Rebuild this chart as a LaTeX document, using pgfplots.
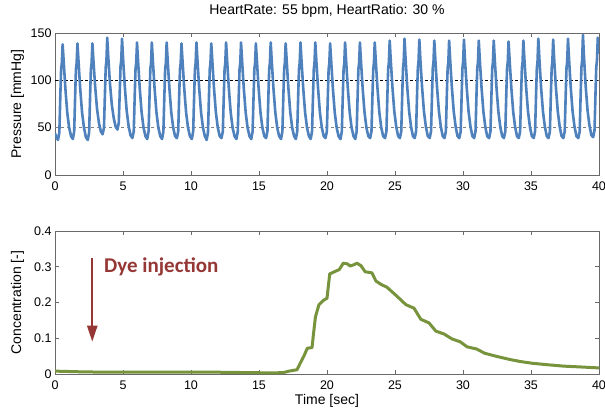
\documentclass[border=0pt]{standalone}
\usepackage{pgfplots}
\pgfplotsset{compat=1.18}
\usepackage{fontspec}
\setmainfont{Liberation Sans}
\newfontfamily\calibri{Carlito}
\usetikzlibrary{arrows.meta}
\definecolor{sigblue}{RGB}{79,129,189}
\definecolor{siggreen}{RGB}{119,147,60}
\definecolor{dyered}{RGB}{149,55,53}
\definecolor{framegray}{RGB}{105,105,105}

\pgfplotsset{
  panel/.style={
    scale only axis, width=544pt,
    xmin=0, xmax=40, xtick={0,5,...,40},
    axis line style={framegray, line width=0.8pt},
    tick style={framegray, line width=0.8pt},
    major tick length=4pt,
    xtick pos=both, ytick pos=both, tick align=inside,
    ticklabel style={font=\fontsize{12.5}{14}\selectfont},
    xticklabel style={yshift=-3pt},
    label style={font=\fontsize{14}{16}\selectfont},
    ylabel style={at={(axis description cs:-0.069,0.5)}, anchor=center},
    /pgf/number format/assume math mode=true,
  }
}

\begin{document}
\begin{tikzpicture}
\path[use as bounding box] (0,0) rectangle (605pt,408pt);

% pressure
\begin{axis}[panel, at={(55pt,233pt)}, anchor=south west, height=142pt,
  ymin=0, ymax=150, ytick={0,50,100,150},
  ylabel={Pressure [mmHg]},
  title={HeartRate: 55 bpm, HeartRatio: 30 \%},
  title style={font=\fontsize{14}{16}\selectfont, at={(axis description cs:0.5,1)}, anchor=base, yshift=12.5pt}]
\addplot[black, line width=0.7pt, dash pattern=on 2.5pt off 2.5pt] coordinates {(0,100) (40,100)};
\addplot[gray, line width=1.2pt, dash pattern=on 3pt off 3pt] coordinates {(0,50) (40,50)};
\addplot[sigblue, line width=2.6pt, line join=round] coordinates {
(0,44) (0.10,40)
(0.22,37) (0.32,45) (0.40,88) (0.45,112) (0.50,118) (0.56,138) (0.64,120) (0.76,92) (0.90,66) (1.04,50) (1.18,41)
(1.31,38) (1.41,46) (1.49,88) (1.54,112) (1.59,118) (1.65,139) (1.73,120) (1.85,92) (1.99,66) (2.13,50) (2.27,40)
(2.41,37) (2.51,45) (2.59,88) (2.64,112) (2.69,118) (2.75,139) (2.83,120) (2.95,94) (3.09,70) (3.23,55) (3.37,46)
(3.50,43) (3.60,50) (3.68,90) (3.73,114) (3.78,120) (3.84,145) (3.92,124) (4.04,97) (4.18,74) (4.32,60) (4.46,51)
(4.59,48) (4.69,55) (4.77,92) (4.82,115) (4.87,121) (4.93,144) (5.01,122) (5.13,94) (5.27,68) (5.41,52) (5.55,42)
(5.69,39) (5.79,46) (5.87,88) (5.92,112) (5.97,118) (6.03,140) (6.11,120) (6.23,92) (6.37,66) (6.51,50) (6.65,41)
(6.78,38) (6.88,46) (6.96,88) (7.01,112) (7.06,118) (7.12,140) (7.20,120) (7.32,92) (7.46,66) (7.60,50) (7.74,41)
(7.87,38) (7.97,46) (8.05,88) (8.10,112) (8.15,118) (8.21,140) (8.29,120) (8.41,92) (8.55,66) (8.69,50) (8.83,41)
(8.96,39) (9.06,46) (9.14,88) (9.19,112) (9.24,118) (9.30,139) (9.38,120) (9.50,92) (9.64,66) (9.78,50) (9.92,41)
(10.06,38) (10.16,46) (10.24,88) (10.29,112) (10.34,118) (10.40,140) (10.48,120) (10.60,92) (10.74,66) (10.88,50) (11.02,41)
(11.15,37) (11.25,45) (11.33,88) (11.38,112) (11.43,118) (11.49,139) (11.57,120) (11.69,92) (11.83,66) (11.97,50) (12.11,41)
(12.24,39) (12.34,46) (12.42,88) (12.47,112) (12.52,118) (12.58,140) (12.66,120) (12.78,92) (12.92,66) (13.06,50) (13.20,41)
(13.34,38) (13.44,46) (13.52,88) (13.57,112) (13.62,118) (13.68,140) (13.76,120) (13.88,92) (14.02,66) (14.16,50) (14.30,41)
(14.43,38) (14.53,46) (14.61,88) (14.66,112) (14.71,118) (14.77,139) (14.85,120) (14.97,92) (15.11,66) (15.25,50) (15.39,41)
(15.52,39) (15.62,46) (15.70,88) (15.75,112) (15.80,118) (15.86,140) (15.94,120) (16.06,92) (16.20,66) (16.34,50) (16.48,41)
(16.62,38) (16.72,46) (16.80,88) (16.85,112) (16.90,118) (16.96,139) (17.04,120) (17.16,92) (17.30,66) (17.44,50) (17.58,41)
(17.71,38) (17.81,46) (17.89,88) (17.94,112) (17.99,118) (18.05,140) (18.13,120) (18.25,92) (18.39,66) (18.53,50) (18.67,41)
(18.80,38) (18.90,46) (18.98,88) (19.03,112) (19.08,118) (19.14,140) (19.22,120) (19.34,92) (19.48,66) (19.62,50) (19.76,41)
(19.89,39) (19.99,46) (20.07,88) (20.12,112) (20.17,118) (20.23,139) (20.31,120) (20.43,92) (20.57,66) (20.71,50) (20.85,41)
(20.99,38) (21.09,46) (21.17,88) (21.22,112) (21.27,118) (21.33,140) (21.41,120) (21.53,92) (21.67,66) (21.81,50) (21.95,41)
(22.08,38) (22.18,46) (22.26,88) (22.31,112) (22.36,118) (22.42,140) (22.50,120) (22.62,92) (22.76,66) (22.90,50) (23.04,41)
(23.17,39) (23.27,46) (23.35,88) (23.40,112) (23.45,118) (23.51,140) (23.59,120) (23.71,92) (23.85,66) (23.99,50) (24.13,41)
(24.27,39) (24.37,46) (24.45,89) (24.50,113) (24.55,119) (24.61,142) (24.69,121) (24.81,93) (24.95,67) (25.09,51) (25.23,41)
(25.36,39) (25.46,46) (25.54,89) (25.59,113) (25.64,120) (25.70,144) (25.78,122) (25.90,93) (26.04,67) (26.18,51) (26.32,41)
(26.45,39) (26.55,46) (26.63,89) (26.68,113) (26.73,120) (26.79,143) (26.87,121) (26.99,93) (27.13,67) (27.27,51) (27.41,41)
(27.55,39) (27.65,46) (27.73,89) (27.78,113) (27.83,119) (27.89,142) (27.97,121) (28.09,93) (28.23,67) (28.37,51) (28.51,41)
(28.64,39) (28.74,46) (28.82,89) (28.87,113) (28.92,119) (28.98,142) (29.06,121) (29.18,93) (29.32,67) (29.46,51) (29.60,41)
(29.73,39) (29.83,46) (29.91,89) (29.96,113) (30.01,120) (30.07,143) (30.15,121) (30.27,93) (30.41,67) (30.55,51) (30.69,41)
(30.82,39) (30.92,46) (31.00,89) (31.05,113) (31.10,119) (31.16,142) (31.24,121) (31.36,93) (31.50,67) (31.64,51) (31.78,41)
(31.92,39) (32.02,46) (32.10,89) (32.15,113) (32.20,119) (32.26,142) (32.34,121) (32.46,93) (32.60,67) (32.74,51) (32.88,41)
(33.01,39) (33.11,46) (33.19,89) (33.24,113) (33.29,119) (33.35,141) (33.43,121) (33.55,93) (33.69,67) (33.83,51) (33.97,41)
(34.10,39) (34.20,46) (34.28,89) (34.33,113) (34.38,119) (34.44,142) (34.52,121) (34.64,93) (34.78,67) (34.92,51) (35.06,41)
(35.20,39) (35.30,46) (35.38,89) (35.43,113) (35.48,120) (35.54,144) (35.62,122) (35.74,93) (35.88,67) (36.02,51) (36.16,41)
(36.29,39) (36.39,46) (36.47,89) (36.52,113) (36.57,120) (36.63,143) (36.71,121) (36.83,93) (36.97,67) (37.11,51) (37.25,41)
(37.38,39) (37.48,46) (37.56,89) (37.61,113) (37.66,120) (37.72,144) (37.80,122) (37.92,93) (38.06,67) (38.20,51) (38.34,41)
(38.48,39) (38.58,46) (38.66,90) (38.71,114) (38.76,121) (38.82,148) (38.90,124) (39.02,94) (39.16,68) (39.30,52) (39.44,42)
(39.57,40) (39.67,47) (39.75,90) (39.80,114) (39.85,121) (39.91,145) (40.00,128)
};
\end{axis}

% concentration
\begin{axis}[panel, at={(55pt,34pt)}, anchor=south west, height=143pt,
  ymin=0, ymax=0.4, ytick={0,0.1,0.2,0.3,0.4},
  yticklabel style={/pgf/number format/fixed, /pgf/number format/precision=1},
  ylabel={Concentration [-]},
  xlabel={Time [sec]},
  xlabel style={at={(axis description cs:0.5,0)}, anchor=base, yshift=-30pt}]
\addplot[siggreen, line width=3pt, line join=round] coordinates {
(0,0.008) (1,0.007) (2,0.006) (4,0.005) (8,0.005) (12,0.005) (14,0.004) (16,0.003)
(16.8,0.004) (17.2,0.008) (17.8,0.012) (18.0,0.028) (18.3,0.05) (18.55,0.072) (18.9,0.074)
(19.0,0.11) (19.15,0.16) (19.4,0.193) (19.7,0.205) (20.0,0.212) (20.2,0.28) (20.6,0.287)
(20.9,0.292) (21.2,0.31) (21.5,0.308) (21.7,0.302) (22.0,0.306) (22.2,0.31) (22.5,0.303)
(22.8,0.286) (23.3,0.283) (23.6,0.26) (24.0,0.25) (24.4,0.243) (24.9,0.226) (25.3,0.212)
(25.8,0.194) (26.4,0.184) (26.9,0.153) (27.5,0.143) (28.0,0.12) (28.6,0.112) (29.2,0.098)
(29.8,0.09) (30.3,0.076) (31.0,0.07) (31.6,0.058) (32.5,0.049) (33.4,0.041) (34.2,0.035)
(35.1,0.03) (36.2,0.026) (37.4,0.022) (38.5,0.02) (40,0.017)
};
\draw[dyered, line width=2.3pt, -{Triangle[width=10pt,length=16pt]}] (axis cs:2.74,0.3236) -- (axis cs:2.74,0.0903);
\node[dyered, anchor=base west, inner sep=0pt, font=\calibri\bfseries\fontsize{21}{24}\selectfont] at (axis cs:3.6,0.285) {Dye injection};
\end{axis}
\end{tikzpicture}
\end{document}
